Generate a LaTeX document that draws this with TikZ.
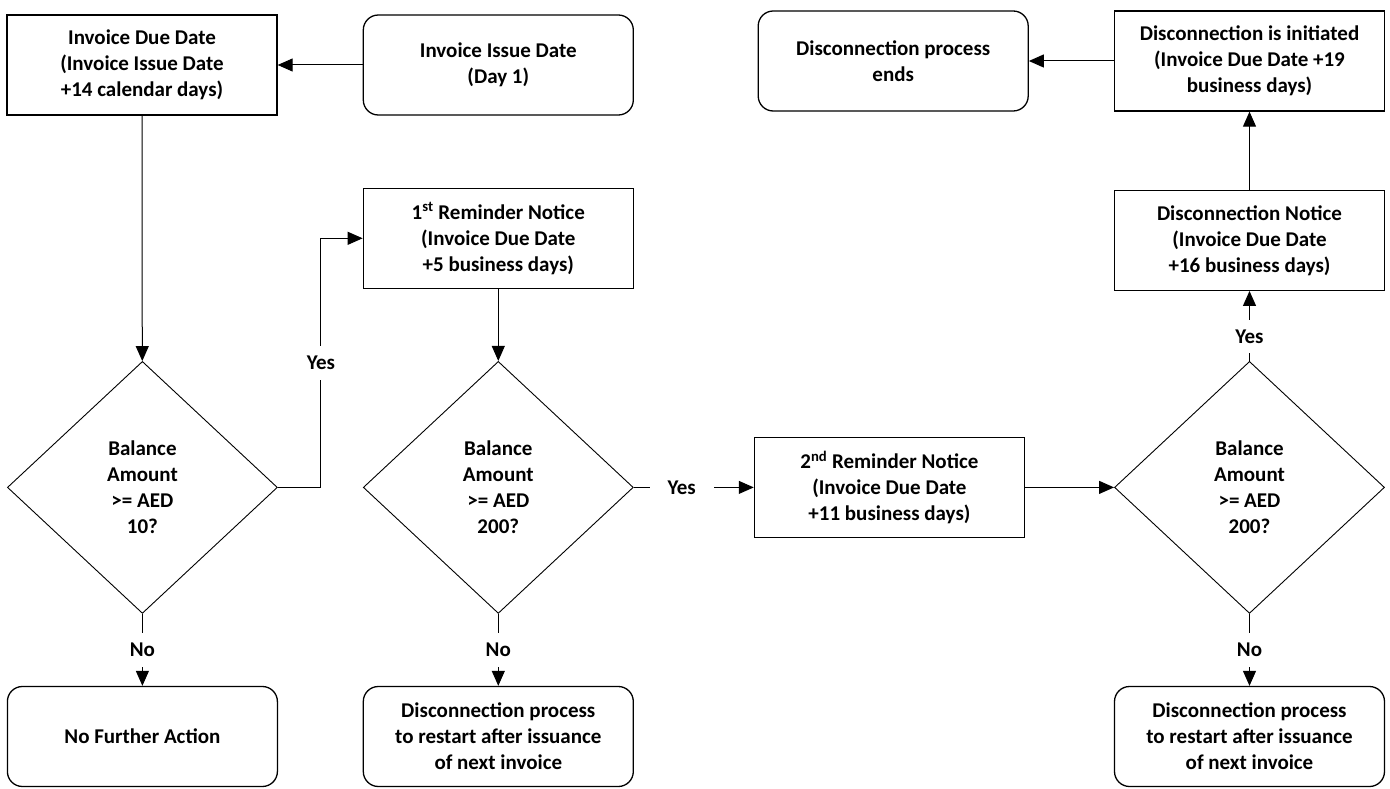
\documentclass[tikz,border=0pt]{standalone}
\usepackage{fontspec}
\setmainfont{Carlito}
\usepackage{tikz}
\usetikzlibrary{arrows.meta, positioning, shapes.geometric}

\begin{document}
\begin{tikzpicture}[
      x=1pt, y=1pt,
      node distance=72pt and 85pt,
      every node/.style={font=\bfseries\fontsize{21pt}{26pt}\selectfont},
      block/.style={rectangle, draw, line width=1.3pt,
                    minimum width=270pt, minimum height=100pt,
                    align=center},
      endblock/.style={block, rounded corners=15pt},
      decision/.style={diamond, draw, line width=0.9pt,
                    minimum width=270pt, minimum height=252pt,
                    inner sep=0pt, align=center},
      arrow/.style={-{Triangle[length=15pt, width=13pt]}, line width=1pt},
      answer/.style={fill=white, inner xsep=18pt, inner ysep=10pt}
    ]
        \useasboundingbox (0,0) rectangle (1390,-789);
        \node[block] (due) at (142,-65) {Invoice Due Date\\(Invoice Issue Date\\+14 calendar days)};
        \node[endblock, right=of due] (issue) {Invoice Issue Date\\(Day 1)};
        \node[block, below=of issue] (rem1) {1\textsuperscript{st} Reminder Notice\\(Invoice Due Date\\+5 business days)};
        \node[decision, below=of rem1] (bal2) {Balance\\Amount\\>= AED\\200?};
        \node[decision, left=of bal2] (bal1) {Balance\\Amount\\>= AED\\10?};
        \node[endblock, below=of bal1] (nofurther) {No Further Action};
        \node[endblock, below=of bal2] (restart1) {Disconnection process\\to restart after issuance\\of next invoice};
        \node[block, right=120pt of bal2] (rem2) {2\textsuperscript{nd} Reminder Notice\\(Invoice Due Date\\+11 business days)};
        \node[decision, right=89pt of rem2] (bal3) {Balance\\Amount\\>= AED\\200?};
        \node[endblock, below=of bal3] (restart2) {Disconnection process\\to restart after issuance\\of next invoice};
        \node[block, above=70pt of bal3] (notice) {Disconnection Notice\\(Invoice Due Date\\+16 business days)};
        \node[block, above=78pt of notice] (initiated) {Disconnection is initiated\\(Invoice Due Date +19\\business days)};
        \node[endblock, left=of initiated] (ends) {Disconnection process\\ends};
        \draw[arrow] (issue) -- (due);
        \draw[arrow] (due) -- (bal1);
        \draw[arrow] (bal1.east) -- ++(43pt,0) |- node[answer, pos=0.25]{Yes} (rem1.west);
        \draw[arrow] (bal1) -- node[answer]{No} (nofurther);
        \draw[arrow] (rem1) -- (bal2);
        \draw[arrow] (bal2) -- node[answer]{No} (restart1);
        \draw[arrow] (bal2) -- node[answer, pos=0.4]{Yes} (rem2);
        \draw[arrow] (rem2) -- (bal3);
        \draw[arrow] (bal3) -- node[answer]{No} (restart2);
        \draw[arrow] (bal3) -- node[answer, pos=0.35]{Yes} (notice);
        \draw[arrow] (notice) -- (initiated);
        \draw[arrow] (initiated) -- (ends);
    \end{tikzpicture}
\end{document}
